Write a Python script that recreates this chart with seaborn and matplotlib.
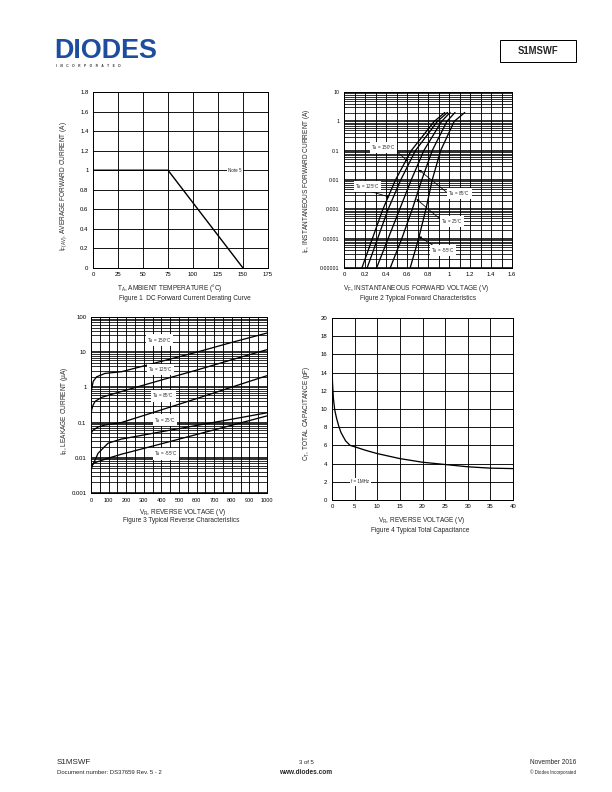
import numpy as np
import pandas as pd
import matplotlib
matplotlib.use("Agg")
import matplotlib.pyplot as plt
import matplotlib.ticker as mticker
from matplotlib.patches import Rectangle
import seaborn as sns

# ---------------- data ----------------
# Figure 1: derating curve
derate_temp = [0, 75, 150]
derate_current = [1.0, 1.0, 0.0]
fig1_xticks = [0, 25, 50, 75, 100, 125, 150, 175]
fig1_yticks = [0, 0.2, 0.4, 0.6, 0.8, 1.0, 1.2, 1.4, 1.6, 1.8]
fig1_ylabels = ["0", "0.2", "0.4", "0.6", "0.8", "1", "1.2", "1.4", "1.6", "1.8"]

# Figure 2: forward characteristics (I in A, V in V)
fwd_current = [1e-5, 1e-4, 1e-3, 1e-2, 1e-1, 1.0, 2.0]
fwd_v_150 = [0.17, 0.27, 0.37, 0.49, 0.64, 0.86, 0.96]
fwd_v_125 = [0.22, 0.32, 0.42, 0.54, 0.68, 0.89, 0.985]
fwd_v_85 = [0.31, 0.42, 0.53, 0.64, 0.76, 0.93, 1.01]
fwd_v_25 = [0.44, 0.55, 0.65, 0.74, 0.84, 0.98, 1.057]
fwd_v_m55 = [0.63, 0.71, 0.78, 0.84, 0.92, 1.05, 1.15]
fig2_xticks = [0, 0.2, 0.4, 0.6, 0.8, 1.0, 1.2, 1.4, 1.6]
fig2_xlabels = ["0", "0.2", "0.4", "0.6", "0.8", "1", "1.2", "1.4", "1.6"]
fig2_yticks = [1e-5, 1e-4, 1e-3, 1e-2, 1e-1, 1, 10]
fig2_ylabels = ["0.00001", "0.0001", "0.001", "0.01", "0.1", "1", "10"]

# Figure 3: reverse characteristics (I in uA)
rev_v_150 = [0, 2, 5, 13, 32, 80, 175, 400, 600, 800, 1000]
rev_i_150 = [0.5, 0.75, 1.0, 1.5, 2.0, 2.5, 2.8, 5.5, 10, 19, 35]
rev_v_125 = [0, 4, 10, 23, 60, 100, 175, 400, 600, 800, 1000]
rev_i_125 = [0.15, 0.23, 0.3, 0.4, 0.52, 0.6, 0.77, 1.62, 3.1, 6.1, 11.8]
rev_v_85 = [0, 2, 10, 40, 78, 172, 400, 600, 800, 1000]
rev_i_85 = [0.035, 0.05, 0.06, 0.075, 0.085, 0.1, 0.23, 0.48, 1.02, 2.15]
rev_v_25 = [0, 3, 10, 20, 40, 97, 172, 400, 600, 800, 1000]
rev_i_25 = [0.0035, 0.005, 0.0065, 0.008, 0.0134, 0.026, 0.034, 0.055, 0.083, 0.125, 0.19]
rev_v_m55 = [0, 3, 10, 20, 40, 97, 172, 400, 600, 800, 1000]
rev_i_m55 = [0.004, 0.0055, 0.0065, 0.0072, 0.0078, 0.0097, 0.0126, 0.025, 0.046, 0.084, 0.155]
fig3_xticks = [0, 100, 200, 300, 400, 500, 600, 700, 800, 900, 1000]
fig3_yticks = [1e-3, 1e-2, 1e-1, 1, 10, 100]
fig3_ylabels = ["0.001", "0.01", "0.1", "1", "10", "100"]

# Figure 4: total capacitance
cap_v = [0, 0.1, 0.3, 0.6, 1, 1.5, 2, 3, 4, 5, 7.5, 10, 15, 20, 25, 30, 35, 40]
cap_c = [15.8, 13.0, 11.2, 9.9, 9.0, 8.1, 7.4, 6.5, 6.0, 5.85, 5.45, 5.1, 4.55,
         4.15, 3.9, 3.65, 3.5, 3.45]
fig4_xticks = [0, 5, 10, 15, 20, 25, 30, 35, 40]
fig4_yticks = [0, 2, 4, 6, 8, 10, 12, 14, 16, 18, 20]

# ---------------- style ----------------
sns.set_theme(style="white")
plt.rcParams["font.family"] = ["Liberation Sans", "DejaVu Sans"]
plt.rcParams["mathtext.default"] = "regular"
plt.rcParams["axes.edgecolor"] = "black"
plt.rcParams["axes.linewidth"] = 1.0

W, H = 612, 792
fig = plt.figure(figsize=(W / 72, H / 72), dpi=72)
fig.patch.set_facecolor("white")


def rect(l, t, r, b):
    return [l / W, 1 - b / H, (r - l) / W, (b - t) / H]


def fx(x):
    return x / W


def fy(y):
    return 1 - y / H


TICK_FS = 6.0
LAB_FS = 6.5
CAP_FS = 6.5
IN_FS = 4.5
box = dict(facecolor="white", edgecolor="none", pad=1.2)


def style_axes(ax):
    ax.set_axisbelow(True)
    ax.tick_params(axis="both", which="major", labelsize=TICK_FS, length=2,
                   width=0.8, color="black", pad=2.5, labelcolor="black")
    ax.tick_params(axis="both", which="minor", length=0)
    for s in ax.spines.values():
        s.set_color("black")
        s.set_linewidth(1.0)
    ax.set_xlabel("")
    ax.set_ylabel("")


# ---------------- Figure 1 ----------------
ax1 = fig.add_axes(rect(93, 92, 268, 268))
df1 = pd.DataFrame({"T": derate_temp, "I": derate_current})
sns.lineplot(data=df1, x="T", y="I", ax=ax1, color="black", lw=1.4,
             estimator=None, sort=False)
ax1.set_xlim(0, 175)
ax1.set_ylim(0, 1.8)
ax1.set_xticks(fig1_xticks)
ax1.set_yticks(fig1_yticks, fig1_ylabels)
ax1.grid(True, which="major", color="black", lw=0.9)
style_axes(ax1)
ax1.text(142, 1.0, "Note 5", fontsize=IN_FS, ha="center", va="center", bbox=box)
fig.text(fx(64), fy(186), r"I$_{F(AV)}$, AVERAGE FORWARD CURRENT (A)",
         rotation=90, ha="center", va="center", fontsize=LAB_FS)
fig.text(fx(170), fy(288), r"T$_A$, AMBIENT TEMPERATURE (°C)",
         ha="center", va="center", fontsize=LAB_FS)
fig.text(fx(185), fy(298), "Figure 1  DC Forward Current Derating Curve",
         ha="center", va="center", fontsize=CAP_FS)

# ---------------- Figure 2 ----------------
ax2 = fig.add_axes(rect(344, 92, 512, 268))
ax2.set_yscale("log")
fwd_sets = [("150", fwd_v_150), ("125", fwd_v_125), ("85", fwd_v_85),
            ("25", fwd_v_25), ("-55", fwd_v_m55)]
df2 = pd.concat([pd.DataFrame({"V": v, "I": fwd_current, "T": t}) for t, v in fwd_sets])
sns.lineplot(data=df2, x="V", y="I", hue="T", palette=["black"] * 5, ax=ax2,
             lw=1.3, estimator=None, sort=False, legend=False)
ax2.set_xlim(0, 1.6)
ax2.set_ylim(1e-5, 10)
ax2.set_xticks(fig2_xticks, fig2_xlabels)
ax2.xaxis.set_minor_locator(mticker.MultipleLocator(0.1))
ax2.set_yticks(fig2_yticks, fig2_ylabels)
ax2.yaxis.set_minor_locator(mticker.LogLocator(base=10, subs=np.arange(2, 10)))
ax2.yaxis.set_minor_formatter(mticker.NullFormatter())
ax2.grid(True, which="major", axis="y", color="black", lw=1.6)
ax2.grid(True, which="minor", axis="y", color="black", lw=0.8)
ax2.grid(True, which="both", axis="x", color="black", lw=0.9)
style_axes(ax2)
ax2.tick_params(axis="y", labelsize=5.3)
fwd_labels = [
    ("150", 0.378, 0.13, (0.517, 0.084), (0.613, 0.042)),
    ("125", 0.22, 0.0061, (0.23, 0.0043), (0.435, 0.0026)),
    ("85", 1.10, 0.0034, (0.975, 0.0039), (0.711, 0.0225)),
    ("25", 1.03, 3.9e-4, (0.911, 4.8e-4), (0.689, 0.00225)),
    ("-55", 0.94, 4.0e-5, (0.848, 5.9e-5), (0.711, 1.2e-4)),
]
for t, lx, ly, tail, tip in fwd_labels:
    ax2.annotate("", xy=tip, xytext=tail,
                 arrowprops=dict(arrowstyle="-|>", color="black", lw=0.8,
                                 mutation_scale=5, shrinkA=0, shrinkB=0),
                 zorder=4)
    ax2.text(lx, ly, r"T$_A$ = " + t + "°C", fontsize=IN_FS, ha="center",
             va="center", bbox=box, zorder=5)
fig.text(fx(306), fy(181), r"I$_F$, INSTANTANEOUS FORWARD CURRENT (A)",
         rotation=90, ha="center", va="center", fontsize=LAB_FS)
fig.text(fx(416), fy(288), r"V$_F$, INSTANTANEOUS FORWARD VOLTAGE (V)",
         ha="center", va="center", fontsize=LAB_FS)
fig.text(fx(418), fy(298), "Figure 2 Typical Forward Characteristics",
         ha="center", va="center", fontsize=CAP_FS)

# ---------------- Figure 3 ----------------
ax3 = fig.add_axes(rect(91, 317, 267, 493))
ax3.set_yscale("log")
rev_sets = [("150", rev_v_150, rev_i_150), ("125", rev_v_125, rev_i_125),
            ("85", rev_v_85, rev_i_85), ("25", rev_v_25, rev_i_25),
            ("-55", rev_v_m55, rev_i_m55)]
df3 = pd.concat([pd.DataFrame({"V": v, "I": i, "T": t}) for t, v, i in rev_sets])
sns.lineplot(data=df3, x="V", y="I", hue="T", palette=["black"] * 5, ax=ax3,
             lw=1.3, estimator=None, sort=False, legend=False)
ax3.set_xlim(0, 1000)
ax3.set_ylim(1e-3, 100)
ax3.set_xticks(fig3_xticks)
ax3.xaxis.set_minor_locator(mticker.MultipleLocator(50))
ax3.set_yticks(fig3_yticks, fig3_ylabels)
ax3.yaxis.set_minor_locator(mticker.LogLocator(base=10, subs=np.arange(2, 10)))
ax3.yaxis.set_minor_formatter(mticker.NullFormatter())
ax3.grid(True, which="major", axis="y", color="black", lw=1.6)
ax3.grid(True, which="minor", axis="y", color="black", lw=0.8)
ax3.grid(True, which="both", axis="x", color="black", lw=0.9)
style_axes(ax3)
ax3.tick_params(axis="x", labelsize=5.5)
rev_labels = [("150", 387, 22), ("125", 393, 3.2), ("85", 412, 0.57),
              ("25", 421, 0.118), ("-55", 425, 0.0128)]
for t, lx, ly in rev_labels:
    ax3.text(lx, ly, r"T$_A$ = " + t + "°C", fontsize=IN_FS, ha="center",
             va="center", bbox=box, zorder=5)
fig.text(fx(64), fy(411), r"I$_R$, LEAKAGE CURRENT (µA)",
         rotation=90, ha="center", va="center", fontsize=LAB_FS)
fig.text(fx(183), fy(512), r"V$_R$, REVERSE VOLTAGE (V)",
         ha="center", va="center", fontsize=LAB_FS)
fig.text(fx(181), fy(521), "Figure 3 Typical Reverse Characteristics",
         ha="center", va="center", fontsize=CAP_FS)

# ---------------- Figure 4 ----------------
ax4 = fig.add_axes(rect(332, 318, 513, 500))
df4 = pd.DataFrame({"V": cap_v, "C": cap_c})
sns.lineplot(data=df4, x="V", y="C", ax=ax4, color="black", lw=1.3,
             estimator=None, sort=False)
ax4.set_xlim(0, 40)
ax4.set_ylim(0, 20)
ax4.set_xticks(fig4_xticks)
ax4.set_yticks(fig4_yticks)
ax4.grid(True, which="major", color="black", lw=0.9)
style_axes(ax4)
ax4.text(6.3, 2.0, "f = 1MHz", fontsize=IN_FS, ha="center", va="center", bbox=box)
fig.text(fx(307), fy(413), r"C$_T$, TOTAL CAPACITANCE (pF)",
         rotation=90, ha="center", va="center", fontsize=LAB_FS)
fig.text(fx(422), fy(521), r"V$_R$, REVERSE VOLTAGE (V)",
         ha="center", va="center", fontsize=LAB_FS)
fig.text(fx(420), fy(531), "Figure 4 Typical Total Capacitance",
         ha="center", va="center", fontsize=CAP_FS)

# ---------------- header / footer ----------------
fig.text(fx(54), fy(51), "DIODES", fontsize=27, fontweight="heavy",
         color="#1d4e9e", ha="left", va="center")
fig.text(fx(56), fy(66), "I    N    C    O    R    P    O    R    A    T    E    D",
         fontsize=3.3, color="#333333", ha="left", va="center", fontweight="bold")
fig.patches.append(Rectangle((fx(500), fy(62)), (576 - 500) / W, 22 / H,
                             transform=fig.transFigure, fill=False,
                             edgecolor="black", lw=1.0))
fig.text(fx(538), fy(51), "S1MSWF", fontsize=9.5, fontweight="bold",
         ha="center", va="center")

fig.text(fx(57), fy(762), "S1MSWF", fontsize=8, ha="left", va="center")
fig.text(fx(57), fy(772), "Document number: DS37659 Rev. 5 - 2", fontsize=6,
         ha="left", va="center")
fig.text(fx(306), fy(762), "3 of 5", fontsize=6, ha="center", va="center")
fig.text(fx(306), fy(772), "www.diodes.com", fontsize=6.5, fontweight="bold",
         ha="center", va="center")
fig.text(fx(576), fy(762), "November 2016", fontsize=6.5, ha="right", va="center")
fig.text(fx(576), fy(772), "© Diodes Incorporated", fontsize=4.5, ha="right",
         va="center")

fig.savefig("out.png", dpi=72, facecolor="white")
